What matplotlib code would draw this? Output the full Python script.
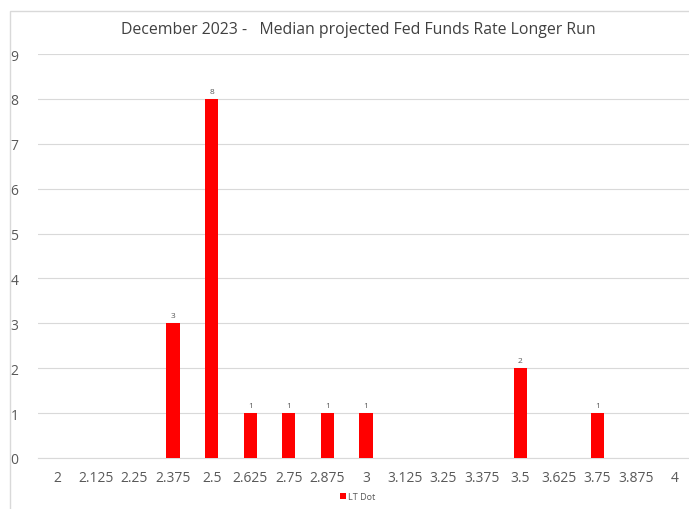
import matplotlib.pyplot as plt
from matplotlib.patches import Rectangle

rates = ['2', '2.125', '2.25', '2.375', '2.5', '2.625', '2.75', '2.875', '3',
         '3.125', '3.25', '3.375', '3.5', '3.625', '3.75', '3.875', '4']
dots = [0, 0, 0, 3, 8, 1, 1, 1, 1, 0, 0, 0, 2, 0, 1, 0, 0]

plt.rcParams['font.family'] = ['Open Sans', 'DejaVu Sans']
grey = '#595959'

fig = plt.figure(figsize=(6.89, 5.10), dpi=100)
# chart border
fig.patches.append(Rectangle((10 / 689, -0.01), 1.0, 1 - 12 / 510 + 0.01,
                             transform=fig.transFigure, fill=False,
                             edgecolor='#d9d9d9', linewidth=1))

ax = fig.add_axes([38 / 689, 1 - 459 / 510, 656 / 689, (459 - 55) / 510])
x = list(range(len(rates)))
bars = ax.bar(x, dots, width=0.34, color='#ff0000', label='LT Dot', zorder=3)
labels = [str(v) if v > 0 else '' for v in dots]
ax.bar_label(bars, labels=labels, padding=3, fontsize=6, color=grey)

ax.set_xlim(-0.5, len(rates) - 0.5)
ax.set_ylim(0, 9)
ax.set_yticks(range(10))
ax.set_xticks(x)
ax.set_xticklabels(rates)
ax.tick_params(axis='both', length=0, labelsize=10, colors=grey)
ax.tick_params(axis='x', pad=9)
ax.tick_params(axis='y', pad=14)
ax.grid(axis='y', color='#d9d9d9', linewidth=0.8, zorder=0)
for s in ['top', 'right', 'left']:
    ax.spines[s].set_visible(False)
ax.spines['bottom'].set_color('#d9d9d9')

fig.text(358 / 689, 1 - 30 / 510, 'December 2023 -   Median projected Fed Funds Rate Longer Run',
         ha='center', va='center', fontsize=11.4, color='#404040')

fig.legend(handles=[bars], labels=['LT Dot'], loc='center',
           bbox_to_anchor=(358 / 689, 1 - 498 / 510), frameon=False,
           fontsize=6.5, handlelength=0.6, handleheight=0.6, handletextpad=0.3,
           labelcolor=grey)

fig.savefig('out.png', dpi=100)
